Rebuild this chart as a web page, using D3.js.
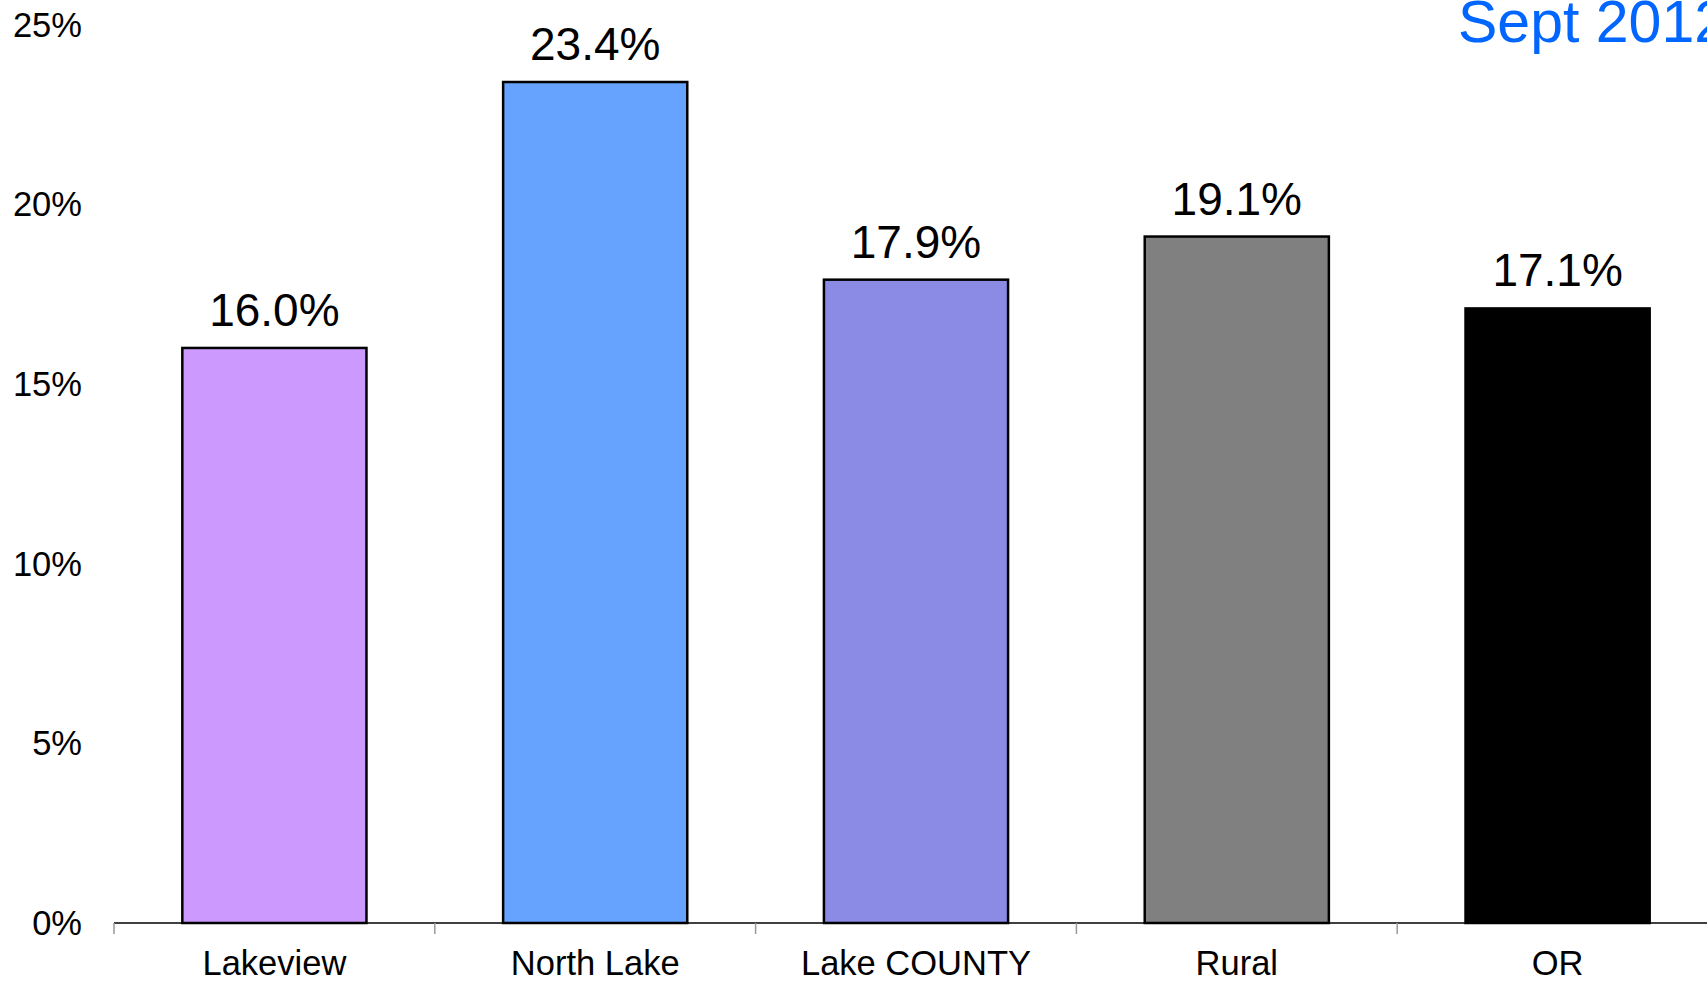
<!DOCTYPE html>
<html>
<head>
<meta charset="utf-8">
<script src="https://cdn.jsdelivr.net/npm/d3@7"></script>
<style>
html,body{margin:0;padding:0;background:#fff;overflow:hidden;}
svg{display:block;font-family:"Liberation Sans",Arial,sans-serif;}
</style>
</head>
<body>
<svg id="chart" width="1707" height="982"></svg>
<script>
const categories = ["Lakeview", "North Lake", "Lake COUNTY", "Rural", "OR"];
const values = [16.0, 23.4, 17.9, 19.1, 17.1];
const colors = ["#CC99FF", "#66A3FF", "#8B8BE6", "#808080", "#000000"];
const yTicks = [0, 5, 10, 15, 20, 25];
const title = "Sept 2012";

const svg = d3.select("#chart");
const x0 = 114, step = 320.8;
const x = d3.scaleBand().domain(categories)
  .range([x0, x0 + step * categories.length])
  .paddingInner(0.426).paddingOuter(0.213);
const y = d3.scaleLinear().domain([0, 25]).range([923, 24.5]);

// y tick labels
svg.append("g").selectAll("text").data(yTicks).join("text")
  .attr("x", 82).attr("y", d => y(d))
  .attr("text-anchor", "end").attr("dominant-baseline", "central")
  .attr("font-size", 34.5).attr("fill", "#000")
  .text(d => d + "%");

// bars
svg.append("g").selectAll("rect").data(categories).join("rect")
  .attr("x", d => x(d)).attr("width", x.bandwidth())
  .attr("y", (d, i) => y(values[i]))
  .attr("height", (d, i) => y(0) - y(values[i]))
  .attr("fill", (d, i) => colors[i])
  .attr("stroke", "#000").attr("stroke-width", 2.5);

// x axis line
svg.append("line").attr("x1", x0).attr("x2", 1707)
  .attr("y1", y(0)).attr("y2", y(0))
  .attr("stroke", "#000").attr("stroke-width", 1.5);

// x ticks at band boundaries
const bounds = d3.range(categories.length).map(i => x0 + i * step);
svg.append("g").selectAll("line").data(bounds).join("line")
  .attr("x1", d => d).attr("x2", d => d)
  .attr("y1", y(0)).attr("y2", y(0) + 11)
  .attr("stroke", "#999").attr("stroke-width", 1.5);

// category labels
svg.append("g").selectAll("text").data(categories).join("text")
  .attr("x", d => x(d) + x.bandwidth() / 2).attr("y", 975)
  .attr("text-anchor", "middle").attr("font-size", 34.5).attr("fill", "#000")
  .text(d => d);

// value labels
svg.append("g").selectAll("text").data(categories).join("text")
  .attr("x", d => x(d) + x.bandwidth() / 2)
  .attr("y", (d, i) => y(values[i]) - 22)
  .attr("text-anchor", "middle").attr("font-size", 46).attr("fill", "#000")
  .text((d, i) => values[i].toFixed(1) + "%");

// title
svg.append("text").attr("x", 1458).attr("y", 42)
  .attr("font-size", 59).attr("fill", "#0066FF")
  .text(title);
</script>
</body>
</html>
